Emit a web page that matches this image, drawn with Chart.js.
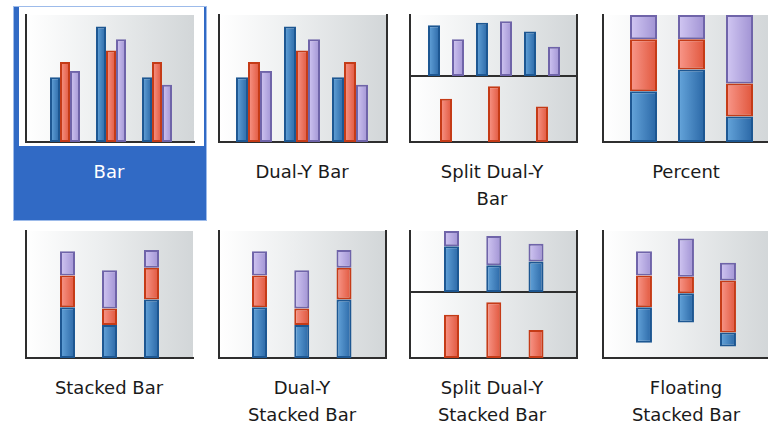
<!DOCTYPE html>
<html>
<head>
<meta charset="utf-8">
<script src="https://cdn.jsdelivr.net/npm/chart.js@4/dist/chart.umd.min.js"></script>
<style>
  html, body { margin: 0; padding: 0; background: #fff; width: 768px; height: 423px; overflow: hidden; position: relative; }
  .abs { position: absolute; }
  .sel { left: 13px; top: 6px; width: 192px; height: 213px; background: #316ac5; border: 1px solid #9dbbea; }
  .selInner { left: 19px; top: 7px; width: 185px; height: 139px; background: #fff; }
  .panel { background: linear-gradient(to right, #ffffff 0%, #eceeef 45%, #d2d6d8 100%); }
  .cap { width: 194px; text-align: center; font-family: "DejaVu Sans", sans-serif; font-size: 18px; line-height: 27px; color: #1a1a1a; white-space: nowrap; }
  .cap.on { color: #fff; }
</style>
</head>
<body>
<div class="abs sel"></div>
<div class="abs selInner"></div>
<script>
// Category slots shared by every thumbnail
const categories = ['A', 'B', 'C'];

// Bar / Dual-Y Bar (scale 0-100)
const barBlue   = [51, 91, 51];
const barRed    = [63, 72, 63];
const barPurple = [56, 81, 45];

// Split Dual-Y Bar: upper axis 0-48, lower axis 0-52
const splitBlue   = [40, 42, 35];
const splitPurple = [29, 43, 23];
const splitRed    = [34, 44, 28];

// Percent (shares of 100)
const pctBlue   = [40, 57, 20];
const pctRed    = [41, 24, 26];
const pctPurple = [19, 19, 54];

// Stacked Bar / Dual-Y Stacked Bar (scale 0-100)
const stackBlue   = [40, 26, 46];
const stackRed    = [25, 13, 25];
const stackPurple = [19, 30, 14];

// Split Dual-Y Stacked Bar: upper axis 0-48, lower axis 0-52
const splitStackBlue   = [36, 21, 24];
const splitStackPurple = [12, 23, 14];
const splitStackRed    = [34, 44, 22];

// Floating Stacked Bar: floor of each column plus segment sizes (scale 0-100)
const floatBase   = [12, 28, 9];
const floatBlue   = [28, 23, 11];
const floatRed    = [25, 13, 41];
const floatPurple = [19, 30, 14];

// Captions under each thumbnail
const captions = [
  ['Bar'], ['Dual-Y Bar'], ['Split Dual-Y', 'Bar'], ['Percent'],
  ['Stacked Bar'], ['Dual-Y', 'Stacked Bar'], ['Split Dual-Y', 'Stacked Bar'], ['Floating', 'Stacked Bar']
];

const TONES = {
  blue:   { edge: '#1d5792', light: '#66a6dc', dark: '#2966a5' },
  red:    { edge: '#c53b17', light: '#f9998c', dark: '#e0553b' },
  purple: { edge: '#6f64a9', light: '#d2c8f3', dark: '#a092d3' }
};
const AXIS = '#2e2e2e';
const PAD = 4;

// Horizontal light-to-dark shading on every bar
const barShading = {
  id: 'barShading',
  beforeDatasetsDraw(chart) {
    const ctx = chart.ctx;
    chart.data.datasets.forEach((ds, di) => {
      const tone = TONES[ds.tone];
      chart.getDatasetMeta(di).data.forEach(el => {
        const { x, width } = el.getProps(['x', 'width'], true);
        const g = ctx.createLinearGradient(x - width / 2, 0, x + width / 2, 0);
        g.addColorStop(0, tone.light);
        g.addColorStop(1, tone.dark);
        el.options.backgroundColor = g;
      });
    });
  }
};

function series(tone, points, yAxisID) {
  return {
    tone,
    data: points,
    yAxisID: yAxisID || 'y',
    backgroundColor: c => TONES[c.dataset.tone].dark,
    borderColor: TONES[tone].edge,
    borderWidth: 2,
    borderSkipped: false
  };
}
const pts = values => values.map((v, i) => ({ x: i, y: v }));

function xAxis(min, max, stacked) {
  return {
    type: 'linear', min, max, offset: false, stacked: !!stacked,
    grid: { display: false, drawTicks: false },
    ticks: { display: false },
    border: { display: true, color: AXIS, width: 2 },
    afterBuildTicks: s => { s.ticks = categories.map((_, i) => ({ value: i })); }
  };
}
function yAxis(max, position, stacked) {
  return {
    type: 'linear', min: 0, max, position, stacked: !!stacked,
    grid: { display: false, drawTicks: false },
    ticks: { display: false },
    border: { display: true, color: AXIS, width: 2 }
  };
}

function addPanel(r) {
  const d = document.createElement('div');
  d.className = 'abs panel';
  Object.assign(d.style, { left: r.x + 'px', top: r.y + 'px', width: r.w + 'px', height: r.h + 'px' });
  document.body.appendChild(d);
}

function thumb(r, datasets, scales, pct) {
  const cv = document.createElement('canvas');
  cv.width = r.w + 2 * PAD;
  cv.height = r.h + 2 * PAD;
  cv.className = 'abs';
  Object.assign(cv.style, { left: (r.x - PAD) + 'px', top: (r.y - PAD) + 'px' });
  document.body.appendChild(cv);
  new Chart(cv, {
    type: 'bar',
    data: { datasets },
    options: {
      responsive: false, animation: false, events: [],
      layout: { padding: PAD },
      plugins: { legend: { display: false }, tooltip: { enabled: false } },
      datasets: { bar: { categoryPercentage: pct[0], barPercentage: pct[1] } },
      scales
    },
    plugins: [barShading]
  });
}

// ---- Bar ----
addPanel({ x: 26, y: 15, w: 168, h: 127 });
thumb({ x: 26, y: 15, w: 168, h: 127 },
  [series('blue', pts(barBlue)), series('red', pts(barRed)), series('purple', pts(barPurple))],
  { x: xAxis(-0.848, 2.804), y: yAxis(100, 'left') }, [0.652, 1]);

// ---- Dual-Y Bar ----
addPanel({ x: 219, y: 15, w: 168, h: 127 });
thumb({ x: 219, y: 15, w: 168, h: 127 },
  [series('blue', pts(barBlue)), series('red', pts(barRed), 'y2'), series('purple', pts(barPurple))],
  { x: xAxis(-0.729, 2.771), y: yAxis(100, 'left'), y2: yAxis(100, 'right') }, [0.75, 1]);

// ---- Split Dual-Y Bar ----
addPanel({ x: 410, y: 15, w: 167, h: 127 });
thumb({ x: 410, y: 15, w: 167, h: 61 },
  [series('blue', pts(splitBlue)), series('purple', pts(splitPurple), 'y2')],
  { x: xAxis(-0.75, 2.729), y: yAxis(48, 'left'), y2: yAxis(48, 'right') }, [1, 0.5]);
thumb({ x: 410, y: 76, w: 167, h: 66 },
  [series('red', pts(splitRed))],
  { x: xAxis(-0.75, 2.729), y: yAxis(52, 'left'), y2: yAxis(52, 'right') }, [0.25, 1]);

// ---- Percent ----
addPanel({ x: 603, y: 15, w: 168, h: 127 });
thumb({ x: 603, y: 15, w: 168, h: 127 },
  [series('blue', pts(pctBlue)), series('red', pts(pctRed)), series('purple', pts(pctPurple))],
  { x: xAxis(-0.844, 2.656, true), y: yAxis(100, 'left', true) }, [0.5625, 1]);

// ---- Stacked Bar ----
addPanel({ x: 26, y: 231, w: 167, h: 127 });
thumb({ x: 26, y: 231, w: 167, h: 127 },
  [series('blue', pts(stackBlue)), series('red', pts(stackRed)), series('purple', pts(stackPurple))],
  { x: xAxis(-0.988, 2.988, true), y: yAxis(100, 'left', true) }, [0.357, 1]);

// ---- Dual-Y Stacked Bar ----
addPanel({ x: 219, y: 231, w: 167, h: 127 });
thumb({ x: 219, y: 231, w: 167, h: 127 },
  [series('blue', pts(stackBlue)), series('red', pts(stackRed)), series('purple', pts(stackPurple))],
  { x: xAxis(-0.959, 2.994, true), y: yAxis(100, 'left', true), y2: yAxis(100, 'right') }, [0.355, 1]);

// ---- Split Dual-Y Stacked Bar ----
addPanel({ x: 410, y: 231, w: 167, h: 127 });
thumb({ x: 410, y: 231, w: 167, h: 61 },
  [series('blue', pts(splitStackBlue)), series('purple', pts(splitStackPurple))],
  { x: xAxis(-0.982, 2.97, true), y: yAxis(48, 'left', true), y2: yAxis(48, 'right') }, [0.355, 1]);
thumb({ x: 410, y: 292, w: 167, h: 66 },
  [series('red', pts(splitStackRed))],
  { x: xAxis(-0.982, 2.97), y: yAxis(52, 'left'), y2: yAxis(52, 'right') }, [0.355, 1]);

// ---- Floating Stacked Bar ----
const floatLow  = floatBase;
const floatMid  = floatBase.map((b, i) => b + floatBlue[i]);
const floatHigh = floatMid.map((m, i) => m + floatRed[i]);
const floatTop  = floatHigh.map((h, i) => h + floatPurple[i]);
const ranges = (lo, hi) => lo.map((v, i) => ({ x: i, y: [v, hi[i]] }));
addPanel({ x: 603, y: 231, w: 168, h: 127 });
thumb({ x: 603, y: 231, w: 168, h: 127 },
  [
    Object.assign(series('blue', ranges(floatLow, floatMid)), { grouped: false }),
    Object.assign(series('red', ranges(floatMid, floatHigh)), { grouped: false }),
    Object.assign(series('purple', ranges(floatHigh, floatTop)), { grouped: false })
  ],
  { x: xAxis(-0.976, 3.024), y: yAxis(100, 'left') }, [0.38, 1]);

// ---- Captions ----
const colCenters = [109, 302, 492, 686];
const rowTops = [158, 374];
captions.forEach((lines, k) => {
  const d = document.createElement('div');
  d.className = 'abs cap' + (k === 0 ? ' on' : '');
  d.style.left = (colCenters[k % 4] - 97) + 'px';
  d.style.top = rowTops[Math.floor(k / 4)] + 'px';
  d.innerHTML = lines.join('<br>');
  document.body.appendChild(d);
});
</script>
</body>
</html>
